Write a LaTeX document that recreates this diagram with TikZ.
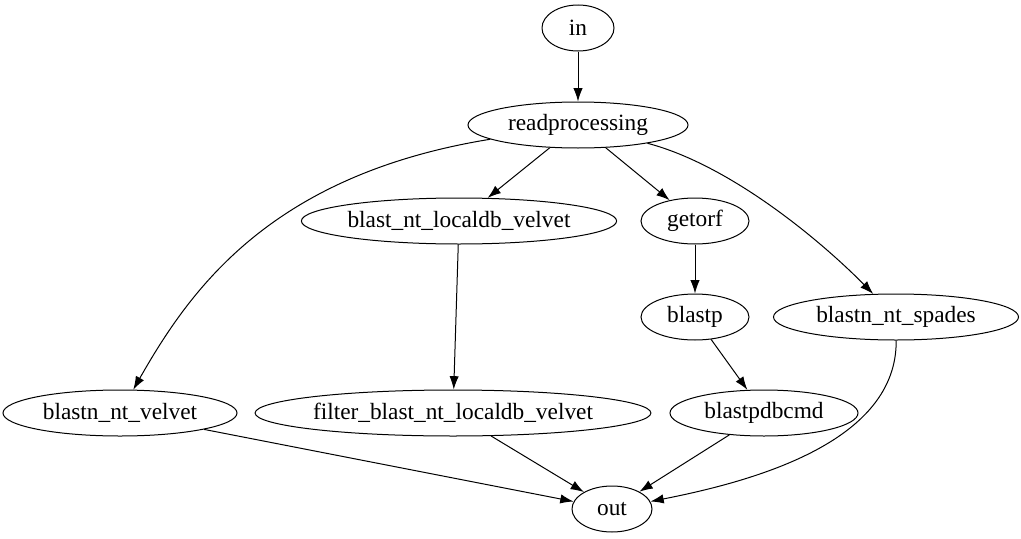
\documentclass[tikz,border=0pt]{standalone}
\usepackage{fontspec}
\newfontfamily\gvfont{Liberation Serif}
\usetikzlibrary{shapes.geometric,arrows.meta}
\begin{document}
\begin{tikzpicture}[x=0.75pt,y=-0.75pt,line width=0.75pt,
    nd/.style={draw,ellipse,inner sep=0pt,minimum height=34.5pt,
      font=\gvfont\fontsize{17.5}{21}\selectfont},
    >={Latex[length=10pt,width=7pt]}]
      \useasboundingbox (0,0) rectangle (1021,539);
      \draw
        (578,28) node[nd,minimum width=54pt] (in){in}
        (578,125) node[nd,minimum width=165pt] (readprocessing){readprocessing}
        (459,221) node[nd,minimum width=234.75pt] (blastlocal){blast\_nt\_localdb\_velvet}
        (695,221) node[nd,minimum width=81pt] (getorf){getorf}
        (695,317) node[nd,minimum width=81pt] (blastp){blastp}
        (896,317) node[nd,minimum width=183.75pt] (spades){blastn\_nt\_spades}
        (120,413) node[nd,minimum width=175.5pt] (velvet){blastn\_nt\_velvet}
        (453,413) node[nd,minimum width=291pt] (filter){filter\_blast\_nt\_localdb\_velvet}
        (764,413) node[nd,minimum width=141pt] (dbcmd){blastpdbcmd}
        (612,509) node[nd,minimum width=60pt] (out){out};
      \begin{scope}[->]
        \draw (in) to (readprocessing);
        \draw (readprocessing) to (blastlocal);
        \draw (readprocessing) to (getorf);
        \draw (readprocessing) .. controls (270,175) and (190,290) .. (velvet);
        \draw (readprocessing) .. controls (730,165) and (820,240) .. (spades);
        \draw (blastlocal) to (filter);
        \draw (getorf) to (blastp);
        \draw (blastp) to (dbcmd);
        \draw (velvet) to (out);
        \draw (filter) to (out);
        \draw (dbcmd) to (out);
        \draw (spades) .. controls (897,440) and (760,480) .. (out);
      \end{scope}
    \end{tikzpicture}
\end{document}
